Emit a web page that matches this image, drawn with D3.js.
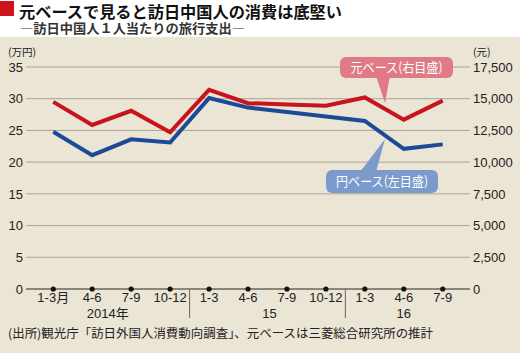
<!DOCTYPE html>
<html>
<head>
<meta charset="utf-8">
<script src="https://cdn.jsdelivr.net/npm/d3@7"></script>
<style>
  body { margin: 0; background: #fff; }
  svg { display: block; }
  text { font-family: "Liberation Sans", Arial, "Noto Sans CJK JP", sans-serif; }
  .jp { font-family: "Noto Sans CJK JP", sans-serif; }
</style>
</head>
<body>
<svg id="chart" width="520" height="353"></svg>
<script>
'use strict';

var quarters = ['1-3月', '4-6', '7-9', '10-12', '1-3', '4-6', '7-9', '10-12', '1-3', '4-6', '7-9'];
var years = [{label: '2014年', at: 1.4}, {label: '15', at: 5.55}, {label: '16', at: 9}];
var yearBreaks = [3.5, 7.5];

// 円ベース（万円, left axis)
var yenValues = [24.8, 21.1, 23.6, 23.1, 30.1, 28.6, 27.9, 27.2, 26.5, 22.1, 22.8];
// 元ベース（元, right axis)
var yuanValues = [14750, 12930, 14050, 12350, 15700, 14650, 14550, 14450, 15100, 13350, 14850];

var leftTicks = [0, 5, 10, 15, 20, 25, 30, 35];
var rightTicks = [0, 2500, 5000, 7500, 10000, 12500, 15000, 17500];

var svg = d3.select('#chart');

var margin = {top: 67, bottom: 64, left: 26, right: 50};
var width = 520, height = 353;

var x = d3.scaleLinear().domain([-0.7, 10.7]).range([margin.left, width - margin.right]);
var yL = d3.scaleLinear().domain([0, 35]).range([height - margin.bottom, margin.top]);
var yR = d3.scaleLinear().domain([0, 17500]).range([height - margin.bottom, margin.top]);

// background panel
svg.append('rect')
    .attr('x', 0).attr('y', 37)
    .attr('width', width).attr('height', height - 37)
    .attr('fill', '#ebe5d6');

// title
svg.append('rect')
    .attr('x', 0).attr('y', 1)
    .attr('width', 14).attr('height', 15)
    .attr('fill', '#d0121b');
svg.append('text')
    .attr('class', 'jp')
    .attr('x', 19).attr('y', 17.5)
    .attr('font-size', 16).attr('font-weight', 'bold')
    .attr('textLength', 323).attr('lengthAdjust', 'spacingAndGlyphs')
    .attr('fill', '#111')
    .text('元ベースで見ると訪日中国人の消費は底堅い');
svg.append('text')
    .attr('class', 'jp')
    .attr('x', 20).attr('y', 32.5)
    .attr('font-size', 13).attr('font-weight', 'bold')
    .attr('textLength', 225).attr('lengthAdjust', 'spacingAndGlyphs')
    .attr('fill', '#333')
    .text('―訪日中国人１人当たりの旅行支出―');

// gridlines
svg.append('g')
  .selectAll('line')
  .data(leftTicks.filter(function(d) { return d > 0; }))
  .join('line')
    .attr('x1', margin.left).attr('x2', width - margin.right)
    .attr('y1', function(d) { return yL(d); })
    .attr('y2', function(d) { return yL(d); })
    .attr('stroke', '#aaa494')
    .attr('stroke-width', 1);

// axis labels
var leftAxis = d3.axisLeft(yL).tickValues(leftTicks).tickSize(0).tickPadding(3);
var gl = svg.append('g').attr('transform', 'translate(' + margin.left + ',0)').call(leftAxis);
gl.select('.domain').remove();
gl.selectAll('text').attr('font-size', 13).attr('fill', '#222')
    .attr('font-family', '"Liberation Sans", Arial, sans-serif');

var rightAxis = d3.axisRight(yR).tickValues(rightTicks).tickSize(0).tickPadding(3)
    .tickFormat(d3.format(','));
var gr = svg.append('g').attr('transform', 'translate(' + (width - margin.right) + ',0)').call(rightAxis);
gr.select('.domain').remove();
gr.selectAll('text').attr('font-size', 13).attr('fill', '#222')
    .attr('font-family', '"Liberation Sans", Arial, sans-serif');

svg.append('text').attr('class', 'jp')
    .attr('x', 8).attr('y', 56).attr('font-size', 10.5).attr('fill', '#222')
    .text('(万円)');
svg.append('text').attr('class', 'jp')
    .attr('x', 473).attr('y', 56).attr('font-size', 10.5).attr('fill', '#222')
    .text('(元)');

// x axis baseline
var y0 = yL(0);
svg.append('line')
    .attr('x1', margin.left).attr('x2', width - margin.right)
    .attr('y1', y0).attr('y2', y0)
    .attr('stroke', '#6b6658').attr('stroke-width', 1.5);

svg.append('g')
  .selectAll('line')
  .data(yearBreaks)
  .join('line')
    .attr('x1', function(d) { return x(d); })
    .attr('x2', function(d) { return x(d); })
    .attr('y1', y0).attr('y2', y0 + 29)
    .attr('stroke', '#6b6658').attr('stroke-width', 1);

svg.append('g')
  .selectAll('circle')
  .data(quarters)
  .join('circle')
    .attr('cx', function(d, i) { return x(i); })
    .attr('cy', y0)
    .attr('r', 2.6)
    .attr('fill', '#111');

svg.append('g')
  .selectAll('text')
  .data(quarters)
  .join('text')
    .attr('x', function(d, i) { return x(i); })
    .attr('y', y0 + 13)
    .attr('text-anchor', 'middle')
    .attr('font-size', 13)
    .attr('fill', '#222')
    .text(function(d) { return d; });

svg.append('g')
  .selectAll('text')
  .data(years)
  .join('text')
    .attr('x', function(d) { return x(d.at); })
    .attr('y', y0 + 29)
    .attr('text-anchor', 'middle')
    .attr('font-size', 13)
    .attr('fill', '#222')
    .text(function(d) { return d.label; });

// lines
var lineL = d3.line().x(function(d, i) { return x(i); }).y(function(d) { return yL(d); });
var lineR = d3.line().x(function(d, i) { return x(i); }).y(function(d) { return yR(d); });

svg.append('path')
    .datum(yuanValues)
    .attr('d', lineR)
    .attr('fill', 'none')
    .attr('stroke', '#c8141c')
    .attr('stroke-width', 4)
    .attr('stroke-linejoin', 'miter');

svg.append('path')
    .datum(yenValues)
    .attr('d', lineL)
    .attr('fill', 'none')
    .attr('stroke', '#1b4a97')
    .attr('stroke-width', 4)
    .attr('stroke-linejoin', 'miter');

// callouts
function callout(bx, by, bw, bh, tip, base, fill, label) {
  var g = svg.append('g');
  g.append('path')
      .attr('d', d3.line()([base[0], tip, base[1]]) + 'Z')
      .attr('fill', fill);
  g.append('rect')
      .attr('x', bx).attr('y', by)
      .attr('width', bw).attr('height', bh)
      .attr('rx', 6)
      .attr('fill', fill);
  g.append('text')
      .attr('class', 'jp')
      .attr('x', bx + (bw - 92) / 2).attr('y', by + bh / 2 + 4.5)
      .attr('font-size', 13)
      .attr('textLength', 92)
      .attr('lengthAdjust', 'spacingAndGlyphs')
      .attr('fill', '#fff')
      .text(label);
}

callout(340, 57, 113, 21, [385, 103], [[376, 76], [390, 76]], '#e07a85', '元ベース(右目盛)');
callout(326, 170, 112, 23, [385, 139], [[360, 172], [376, 172]], '#7b9bcd', '円ベース(左目盛)');

// source
svg.append('text')
    .attr('class', 'jp')
    .attr('x', 8).attr('y', 338)
    .attr('font-size', 12.2)
    .attr('textLength', 425).attr('lengthAdjust', 'spacingAndGlyphs')
    .attr('fill', '#222')
    .text('(出所)観光庁「訪日外国人消費動向調査」、元ベースは三菱総合研究所の推計');
</script>
</body>
</html>
